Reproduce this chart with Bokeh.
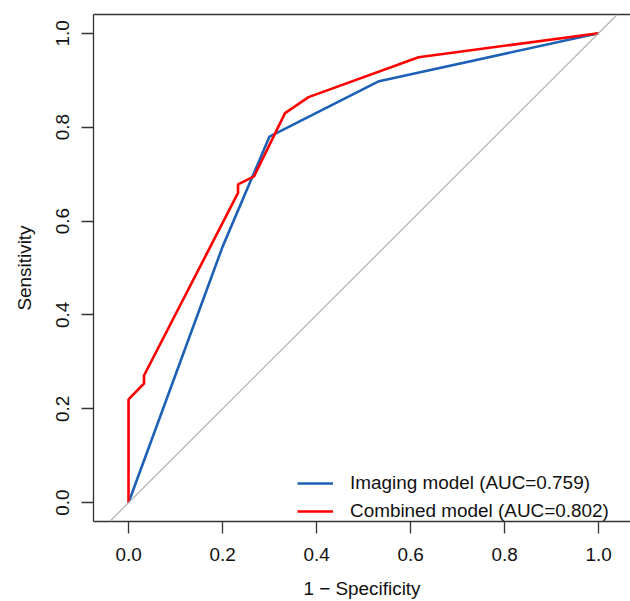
from bokeh.plotting import figure
from bokeh.models import (Range1d, LinearAxis, FixedTicker, Slope, Legend, LegendItem)
from bokeh.embed import file_html
from bokeh.resources import INLINE

# ---- data (1 - specificity, sensitivity) ----
imaging_fpr = [0.0, 0.2, 0.3, 0.533, 1.0]
imaging_tpr = [0.0, 0.545, 0.78, 0.898, 1.0]

combined_fpr = [0.0, 0.0, 0.033, 0.033, 0.233, 0.233, 0.267, 0.333, 0.383, 0.617, 1.0]
combined_tpr = [0.0, 0.22, 0.254, 0.271, 0.66, 0.678, 0.695, 0.83, 0.864, 0.949, 1.0]

labels = ["Imaging model (AUC=0.759)", "Combined model (AUC=0.802)"]
tick_vals = [0.0, 0.2, 0.4, 0.6, 0.8, 1.0]
tick_labels = {0.0: "0.0", 0.2: "0.2", 0.4: "0.4", 0.6: "0.6", 0.8: "0.8", 1.0: "1.0"}

FONT = "Liberation Sans"
FS = "18.9px"

p = figure(width=630, height=601, output_backend="svg", toolbar_location=None,
           x_range=Range1d(-0.0745, 1.068), y_range=Range1d(-0.04, 1.04),
           min_border_left=93, min_border_right=0, min_border_top=14, min_border_bottom=80,
           x_axis_label="1 \u2212 Specificity", y_axis_label="Sensitivity")
p.outline_line_color = None
p.grid.visible = False
p.background_fill_color = "white"
p.border_fill_color = "white"

for ax in (p.xaxis[0], p.yaxis[0]):
    ax.ticker = FixedTicker(ticks=tick_vals)
    ax.major_label_overrides = tick_labels
    ax.major_tick_in = 0
    ax.major_tick_out = 12
    ax.minor_tick_line_color = None
    ax.axis_line_color = "#333333"
    ax.axis_line_width = 1.3
    ax.major_tick_line_color = "#333333"
    ax.major_tick_line_width = 1.3
    ax.major_label_text_font = FONT
    ax.major_label_text_font_size = FS
    ax.major_label_text_color = "#111111"
    ax.axis_label_text_font = FONT
    ax.axis_label_text_font_size = FS
    ax.axis_label_text_font_style = "normal"
    ax.axis_label_text_color = "#111111"

p.xaxis.major_label_standoff = 14
p.xaxis.axis_label_standoff = 14
p.yaxis.major_label_orientation = "vertical"
p.yaxis.major_label_standoff = 12
p.yaxis.axis_label_standoff = 19

top = LinearAxis(ticker=FixedTicker(ticks=[]), major_tick_out=0, major_tick_in=0,
                 minor_tick_line_color=None, major_label_text_alpha=0,
                 axis_line_color="#333333", axis_line_width=1.3)
p.add_layout(top, "above")

p.add_layout(Slope(gradient=1, y_intercept=0, line_color="#b4b4b4", line_width=1.2))

r1 = p.line(imaging_fpr, imaging_tpr, line_color="#1c61b6", line_width=2.6)
r2 = p.line(combined_fpr, combined_tpr, line_color="#ff0000", line_width=2.6)

legend = Legend(items=[LegendItem(label=labels[0], renderers=[r1]),
                       LegendItem(label=labels[1], renderers=[r2])],
                location=(204, -1), padding=0, margin=0, spacing=6,
                glyph_width=36, glyph_height=20, label_height=20, label_standoff=17,
                label_text_font=FONT, label_text_font_size=FS, label_text_color="#111111",
                border_line_color=None, background_fill_alpha=0)
p.add_layout(legend, "center")

open("out.html", "w").write(file_html(p, INLINE))
